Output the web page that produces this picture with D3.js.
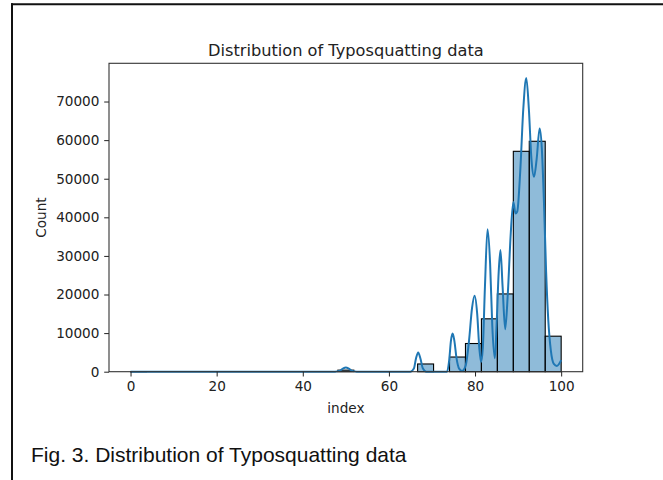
<!DOCTYPE html>
<html>
<head>
<meta charset="utf-8">
<script src="https://cdn.jsdelivr.net/npm/d3@7"></script>
<style>
  html, body { margin: 0; padding: 0; background: #fff; }
  svg { display: block; }
</style>
</head>
<body>
<svg id="chart" width="663" height="480"></svg>
<script>
// Histogram of the typosquatting index: 27 equal bins over [0, 100]
const binRange = [0, 100];
const binCounts = [
  20, 0, 0, 0, 0, 0, 0, 0, 0, 0, 0, 0, 0,
  400, 0, 0, 0, 0,
  2000, 0, 3800, 7300, 13700, 20150, 57100, 59700, 9200
];

// Kernel density estimate, scaled to counts
const kdeIndex = [0, 47.5, 48.5, 49.3, 50, 50.7, 51.5, 52.5, 65, 65.8, 66.3, 66.8, 67.3, 67.9, 68.7,
  73.5, 74.0, 74.4, 74.8, 75.2, 75.7, 76.3, 77.0, 77.8, 78.6, 79.3, 79.9, 80.5, 81.0, 81.4,
  81.8, 82.3, 82.9, 83.5, 84.0, 84.6, 85.0, 85.5, 85.9, 86.4, 87.0, 87.6, 88.3, 88.9, 89.4,
  89.8, 90.5, 91.2, 91.9, 92.5, 93.1, 93.7, 94.3, 95.0, 95.5, 96.0, 96.5, 97.0, 97.6, 98.3,
  99.0, 99.5, 100];
const kdeCount = [0, 0, 200, 800, 1100, 800, 200, 0, 0, 800, 3500, 5000, 3500, 800, 0,
  0, 3000, 8000, 9900, 8000, 3500, 800, 200, 1500, 8000, 16500, 19700, 15000, 6000, 2500,
  6000, 22000, 36900, 28000, 12000, 3500, 12000, 26000, 31500, 22000, 11000, 20000, 36000, 44000, 41000,
  41500, 52000, 68000, 76100, 68000, 55000, 50500, 55000, 63000, 58000, 44000, 26000, 13500, 5500, 2000,
  1500, 2000, 3000];

const xTicks = [0, 20, 40, 60, 80, 100];
const yTicks = [0, 10000, 20000, 30000, 40000, 50000, 60000, 70000];

const titleText = "Distribution of Typosquatting data";
const xLabel = "index";
const yLabel = "Count";
const captionText = "Fig. 3. Distribution of Typosquatting data";

const svg = d3.select("#chart");
const W = 663, H = 480;
const plot = { left: 109, top: 63.3, right: 582.7, bottom: 371.7 };

const mplFont = "'DejaVu Sans', sans-serif";
const tickSize = 13.6;
const mplBlue = "#1f77b4";

// Outer frame: top rule and left rule
svg.append("line").attr("x1", 11).attr("x2", W).attr("y1", 4.3).attr("y2", 4.3)
  .attr("stroke", "#111").attr("stroke-width", 2);
svg.append("line").attr("x1", 12).attr("x2", 12).attr("y1", 3.3).attr("y2", H)
  .attr("stroke", "#111").attr("stroke-width", 2);

const kdeMax = d3.max(kdeCount);
const x = d3.scaleLinear().domain([-5, 105]).range([plot.left, plot.right]);
const y = d3.scaleLinear().domain([0, kdeMax * 1.05]).range([plot.bottom, plot.top]);

// Bin edges
const binW = (binRange[1] - binRange[0]) / binCounts.length;
const bins = binCounts.map((c, i) => ({ x0: binRange[0] + i * binW, x1: binRange[0] + (i + 1) * binW, c }));

const g = svg.append("g");

g.selectAll("rect.bar")
  .data(bins.filter(b => b.c > 0))
  .join("rect")
  .attr("class", "bar")
  .attr("x", d => x(d.x0))
  .attr("width", d => x(d.x1) - x(d.x0))
  .attr("y", d => y(d.c))
  .attr("height", d => y(0) - y(d.c))
  .attr("fill", mplBlue)
  .attr("fill-opacity", 0.5)
  .attr("stroke", "#000")
  .attr("stroke-width", 1.1);

// KDE curve
const kdePts = kdeIndex.map((v, i) => [v, kdeCount[i]]);
const kdeLine = d3.line().x(d => x(d[0])).y(d => y(d[1])).curve(d3.curveMonotoneX);
g.append("path")
  .attr("d", kdeLine(kdePts))
  .attr("fill", "none")
  .attr("stroke", mplBlue)
  .attr("stroke-width", 2)
  .attr("stroke-linejoin", "round");

// Axes
const xAxis = d3.axisBottom(x).tickValues(xTicks).tickSize(4.8).tickPadding(4.8).tickFormat(d3.format("d"));
const yAxis = d3.axisLeft(y).tickValues(yTicks).tickSize(4.8).tickPadding(4.8).tickFormat(d3.format("d"));

const gx = svg.append("g").attr("transform", `translate(0,${plot.bottom})`).call(xAxis);
const gy = svg.append("g").attr("transform", `translate(${plot.left},0)`).call(yAxis);
[gx, gy].forEach(a => {
  a.select(".domain").remove();
  a.selectAll(".tick line").attr("stroke", "#222").attr("stroke-width", 1);
  a.selectAll(".tick text").attr("fill", "#222").style("font-family", mplFont).style("font-size", tickSize + "px");
});

// Spines
svg.append("rect")
  .attr("x", plot.left).attr("y", plot.top)
  .attr("width", plot.right - plot.left).attr("height", plot.bottom - plot.top)
  .attr("fill", "none").attr("stroke", "#333").attr("stroke-width", 1.1);

// Title and axis labels
svg.append("text")
  .attr("x", (plot.left + plot.right) / 2).attr("y", 55.5)
  .attr("text-anchor", "middle")
  .style("font-family", mplFont).style("font-size", "16.2px").attr("fill", "#222")
  .text(titleText);

svg.append("text")
  .attr("x", (plot.left + plot.right) / 2).attr("y", 413)
  .attr("text-anchor", "middle")
  .style("font-family", mplFont).style("font-size", tickSize + "px").attr("fill", "#222")
  .text(xLabel);

svg.append("text")
  .attr("transform", `translate(45.5,${(plot.top + plot.bottom) / 2}) rotate(-90)`)
  .attr("text-anchor", "middle")
  .style("font-family", mplFont).style("font-size", tickSize + "px").attr("fill", "#222")
  .text(yLabel);

// Caption
svg.append("text")
  .attr("x", 31).attr("y", 461.5)
  .style("font-family", "'Liberation Sans', Arial, sans-serif").style("font-size", "21px").attr("fill", "#111")
  .text(captionText);
</script>
</body>
</html>
